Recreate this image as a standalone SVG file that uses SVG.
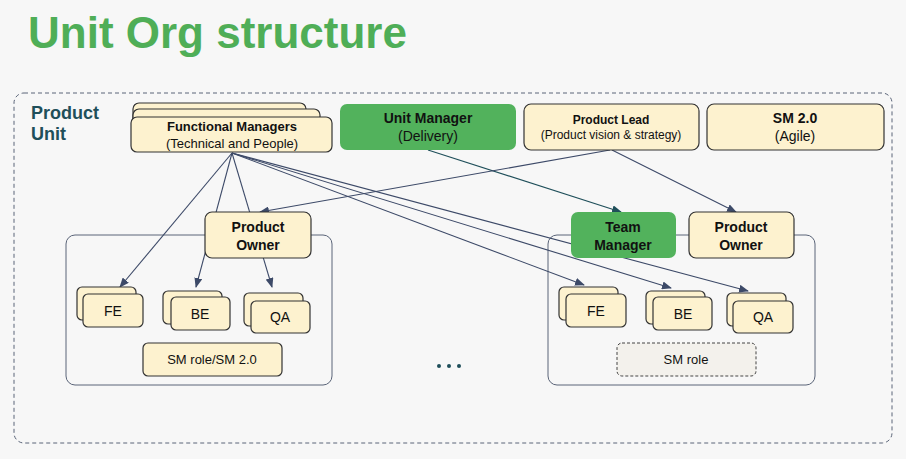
<svg xmlns="http://www.w3.org/2000/svg" width="906" height="459" viewBox="0 0 906 459">
<style>
text{font-family:"Liberation Sans",Arial,sans-serif;text-anchor:middle;fill:#111}
.b{font-weight:bold}
.c{fill:#fdf2cf;stroke:#333;stroke-width:1.2}
.g{fill:#52b25c}
.cont{fill:none;stroke:#5a6478;stroke-width:1}
.ln{stroke:#3d4a68;stroke-width:1.1;fill:none;marker-end:url(#a)}
.lt{stroke:#1f4f5a;stroke-width:1.1;fill:none;marker-end:url(#at)}
</style>
<defs>
<marker id="a" markerWidth="10" markerHeight="8" refX="9" refY="4" orient="auto" markerUnits="userSpaceOnUse"><path d="M0,0L10,4L0,8z" fill="#3d4a68"/></marker>
<marker id="at" markerWidth="10" markerHeight="8" refX="9" refY="4" orient="auto" markerUnits="userSpaceOnUse"><path d="M0,0L10,4L0,8z" fill="#1f4f5a"/></marker>
</defs>
<rect width="906" height="459" fill="#f7f7f7"/>
<text x="28" y="48" class="b" style="font-size:44px;fill:#4fae57;text-anchor:start">Unit Org structure</text>
<rect x="14" y="93" width="878" height="350" rx="10" fill="none" stroke="#5a6478" stroke-dasharray="4,3"/>
<text x="31" y="119" class="b" style="font-size:18px;fill:#1f4f5a;text-anchor:start">Product</text>
<text x="31" y="140" class="b" style="font-size:18px;fill:#1f4f5a;text-anchor:start">Unit</text>
<g id="containers">
<rect class="cont" x="66" y="235" width="266" height="150" rx="9"/>
<rect class="cont" x="548" y="235" width="267" height="150" rx="9"/>
</g>
<g id="connectors">
<path class="ln" d="M232,153L120,287"/>
<path class="ln" d="M232,153L196,287"/>
<path class="ln" d="M232,153L272,287"/>
<path class="ln" d="M232,153L584,285"/>
<path class="ln" d="M232,153L671,288"/>
<path class="ln" d="M232,153L748,291"/>
<path class="lt" d="M428,150L621,212"/>
<path class="ln" d="M610,150L260,212"/>
<path class="ln" d="M612,150L736,212"/>
</g>
<g id="functional-managers">
<rect class="c" x="133" y="103" width="173" height="30" rx="6"/>
<rect class="c" x="133" y="109" width="187" height="30" rx="6"/>
<rect class="c" x="131" y="117" width="201" height="35" rx="6"/>
<text x="232" y="131" class="b" style="font-size:13px">Functional Managers</text>
<text x="232" y="148" style="font-size:13px">(Technical and People)</text>
</g>
<g id="unit-manager">
<rect class="g" x="340" y="104" width="176" height="46" rx="7"/>
<text x="428" y="123" class="b" style="font-size:14px">Unit Manager</text>
<text x="428" y="141" style="font-size:14px">(Delivery)</text>
</g>
<g id="product-lead">
<rect class="c" x="524" y="104" width="175" height="46" rx="7"/>
<text x="611" y="124" class="b" style="font-size:12px">Product Lead</text>
<text x="611" y="139" style="font-size:12px">(Product vision &amp; strategy)</text>
</g>
<g id="sm20">
<rect class="c" x="707" y="104" width="177" height="46" rx="7"/>
<text x="795" y="123" class="b" style="font-size:14px">SM 2.0</text>
<text x="795" y="141" style="font-size:14px">(Agile)</text>
</g>
<g id="po-left">
<rect class="c" x="205" y="212" width="106" height="46" rx="7"/>
<text x="258" y="232" class="b" style="font-size:14px">Product</text>
<text x="258" y="250" class="b" style="font-size:14px">Owner</text>
</g>
<g id="team-manager">
<rect class="g" x="571" y="212" width="105" height="46" rx="7"/>
<text x="623" y="232" class="b" style="font-size:14px">Team</text>
<text x="623" y="250" class="b" style="font-size:14px">Manager</text>
</g>
<g id="po-right">
<rect class="c" x="689" y="212" width="105" height="46" rx="7"/>
<text x="741" y="232" class="b" style="font-size:14px">Product</text>
<text x="741" y="250" class="b" style="font-size:14px">Owner</text>
</g>
<g id="fe-left"><rect class="c" x="77" y="287" width="59" height="33" rx="5"/><rect class="c" x="83" y="294" width="60" height="33" rx="5"/><text x="113" y="316" style="font-size:14px">FE</text></g>
<g id="be-left"><rect class="c" x="163" y="291" width="59" height="33" rx="5"/><rect class="c" x="171" y="297" width="59" height="33" rx="5"/><text x="200" y="319" style="font-size:14px">BE</text></g>
<g id="qa-left"><rect class="c" x="244" y="293" width="59" height="33" rx="5"/><rect class="c" x="251" y="301" width="59" height="32" rx="5"/><text x="280" y="322" style="font-size:14px">QA</text></g>
<g id="sm-left"><rect class="c" x="143" y="343" width="139" height="33" rx="5"/><text x="212" y="364" style="font-size:13px">SM role/SM 2.0</text></g>
<g id="fe-right"><rect class="c" x="559" y="287" width="59" height="33" rx="5"/><rect class="c" x="566" y="294" width="60" height="33" rx="5"/><text x="596" y="316" style="font-size:14px">FE</text></g>
<g id="be-right"><rect class="c" x="646" y="291" width="59" height="33" rx="5"/><rect class="c" x="653" y="297" width="59" height="33" rx="5"/><text x="683" y="319" style="font-size:14px">BE</text></g>
<g id="qa-right"><rect class="c" x="727" y="293" width="59" height="33" rx="5"/><rect class="c" x="733" y="301" width="60" height="32" rx="5"/><text x="763" y="322" style="font-size:14px">QA</text></g>
<g id="sm-right"><rect x="617" y="343" width="139" height="33" rx="5" fill="#f3f1ec" stroke="#444" stroke-dasharray="3,2"/><text x="686" y="364" style="font-size:13px">SM role</text></g>
<g id="ellipsis" fill="#1f4f5a"><circle cx="439" cy="366" r="2"/><circle cx="449" cy="366" r="2"/><circle cx="459" cy="366" r="2"/></g>
</svg>
